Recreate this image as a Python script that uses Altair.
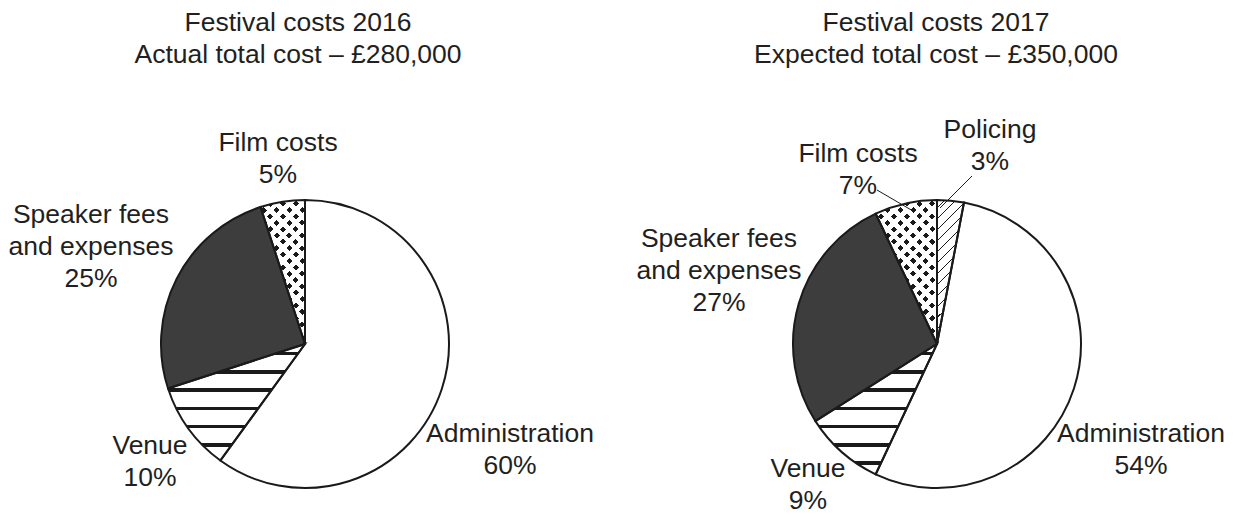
import math
import altair as alt
import pandas as pd

# ---------------- data ----------------
cats_2016 = ["Administration", "Venue", "Speaker fees and expenses", "Film costs"]
pct_2016 = [60, 10, 25, 5]

cats_2017 = ["Policing", "Administration", "Venue", "Speaker fees and expenses", "Film costs"]
pct_2017 = [3, 54, 9, 27, 7]

label_lines = {
    "Administration": ["Administration"],
    "Venue": ["Venue"],
    "Speaker fees and expenses": ["Speaker fees", "and expenses"],
    "Film costs": ["Film costs"],
    "Policing": ["Policing"],
}
titles_2016 = ["Festival costs 2016", "Actual total cost – £280,000"]
titles_2017 = ["Festival costs 2017", "Expected total cost – £350,000"]

# ---------------- layout / style (image pixel coordinates) ----------------
OFF = 8  # page margin
FONT = "Liberation Sans, Arial, Helvetica, sans-serif"
FS = 26.5
TXT = "#231f20"
INK = "#1a1a1a"
DARK = "#3d3d3d"
LH = 32

PIES = {
    "2016": dict(cats=cats_2016, pct=pct_2016, cx=305, cy=344, r=144, titles=titles_2016,
                 title_pos=(298, 31),
                 label_pos={"Film costs": (278, 151), "Speaker fees and expenses": (91, 223),
                            "Venue": (150, 454), "Administration": (510, 442)},
                 leaders=[]),
    "2017": dict(cats=cats_2017, pct=pct_2017, cx=937, cy=344, r=144, titles=titles_2017,
                 title_pos=(936, 31),
                 label_pos={"Policing": (990, 138), "Film costs": (858, 162),
                            "Speaker fees and expenses": (719, 247), "Venue": (808, 477),
                            "Administration": (1141, 442)},
                 leaders=[((877, 190), (913, 211)), ((972, 176), (940, 208))]),
}

fill_colors = {"Administration": "white", "Venue": "white", "Speaker fees and expenses": DARK,
               "Film costs": "white", "Policing": "white"}
all_cats = list(fill_colors.keys())


def arc_bbox(cx, cy, r, f0, f1):
    a0, a1 = f0 * 2 * math.pi, f1 * 2 * math.pi
    angs = [a0, a1] + [k * math.pi / 2 for k in range(5) if a0 < k * math.pi / 2 < a1]
    pts = [(cx, cy)] + [(cx + r * math.sin(a), cy - r * math.cos(a)) for a in angs]
    xs = [p[0] for p in pts]
    ys = [p[1] for p in pts]
    return min(xs), min(ys), max(xs), max(ys)


def stripe_fill(bbox, alpha, beta, period, thick, phase, ink, paper):
    x0, y0, x1, y1 = bbox
    W, H = max(x1 - x0, 1e-6), max(y1 - y0, 1e-6)
    n = math.hypot(alpha, beta)
    alpha, beta = alpha / n, beta / n
    corners = [(x0, y0), (x1, y0), (x0, y1), (x1, y1)]
    cs = [alpha * X + beta * Y for X, Y in corners]
    cmin, cmax = min(cs), max(cs)
    cx0, cy0 = corners[cs.index(cmin)]
    u0, v0 = (cx0 - x0) / W, (cy0 - y0) / H
    s = (cmax - cmin) / (alpha ** 2 * W ** 2 + beta ** 2 * H ** 2)
    gx2, gy2 = u0 + alpha * W * s, v0 + beta * H * s
    span = cmax - cmin
    stops = [{"offset": 0.0, "color": paper}]
    k = math.floor((cmin - phase - thick) / period)
    while True:
        a = phase + k * period
        if a > cmax:
            break
        b = a + thick
        ta = min(max((a - cmin) / span, 0.0), 1.0)
        tb = min(max((b - cmin) / span, 0.0), 1.0)
        if tb > ta:
            stops += [{"offset": ta, "color": paper}, {"offset": ta, "color": ink},
                      {"offset": tb, "color": ink}, {"offset": tb, "color": paper}]
        k += 1
    stops.append({"offset": 1.0, "color": paper})
    return {"gradient": "linear", "x1": u0, "y1": v0, "x2": gx2, "y2": gy2, "stops": stops}


theta_scale = alt.Scale(domain=[0, 100], range=[0, 2 * math.pi])
layers = []

for year, P in PIES.items():
    df = pd.DataFrame({"cat": P["cats"], "pct": P["pct"]})
    df["end"] = df["pct"].cumsum()
    df["start"] = df["end"] - df["pct"]
    cx, cy, r = P["cx"], P["cy"], P["r"]
    pos = dict(x=alt.value(cx - OFF), y=alt.value(cy - OFF))
    th = dict(theta=alt.Theta("start:Q", scale=theta_scale), theta2=alt.Theta2("end:Q"))
    base = alt.Chart(df)

    # solid fills
    layers.append(base.mark_arc(radius=r, strokeWidth=0).encode(
        color=alt.Color("cat:N", scale=alt.Scale(domain=all_cats, range=[fill_colors[c] for c in all_cats]),
                        legend=None), **th, **pos))

    rows = {c: (s, e) for c, s, e in zip(df["cat"], df["start"], df["end"])}

    # Venue: horizontal stripes
    s0, e0 = rows["Venue"]
    bb = arc_bbox(cx, cy, r, s0 / 100, e0 / 100)
    layers.append(base.mark_arc(radius=r, strokeWidth=0,
                                fill=stripe_fill(bb, 0, 1, 18.3, 3.6, 351.7, INK, "white"))
                  .transform_filter(alt.datum.cat == "Venue").encode(**th, **pos))

    # Film costs: staggered dots (two crossing diagonal band families)
    s0, e0 = rows["Film costs"]
    bb = arc_bbox(cx, cy, r, s0 / 100, e0 / 100)
    layers.append(base.mark_arc(radius=r, strokeWidth=0,
                                fill=stripe_fill(bb, 1, 1, 9.0, 4.3, 0, INK, "white"))
                  .transform_filter(alt.datum.cat == "Film costs").encode(**th, **pos))
    layers.append(base.mark_arc(radius=r, strokeWidth=0,
                                fill=stripe_fill(bb, 1, -1, 9.0, 4.3, 0,
                                                 "rgba(255,255,255,0)", "white"))
                  .transform_filter(alt.datum.cat == "Film costs").encode(**th, **pos))

    # Policing: diagonal hatching
    if "Policing" in rows:
        s0, e0 = rows["Policing"]
        bb = arc_bbox(cx, cy, r, s0 / 100, e0 / 100)
        layers.append(base.mark_arc(radius=r, strokeWidth=0,
                                    fill=stripe_fill(bb, 1, 1, 11 / math.sqrt(2), 1.1, 0, INK, "white"))
                      .transform_filter(alt.datum.cat == "Policing").encode(**th, **pos))

    # outlines
    layers.append(base.mark_arc(radius=r, fillOpacity=0, stroke=INK, strokeWidth=2).encode(**th, **pos))

    # labels
    lab = pd.DataFrame({
        "label": ["\n".join(label_lines[c] + [f"{p}%"]) for c, p in zip(P["cats"], P["pct"])],
        "lx": [P["label_pos"][c][0] - OFF for c in P["cats"]],
        "ly": [P["label_pos"][c][1] - OFF for c in P["cats"]],
    })
    layers.append(alt.Chart(lab).mark_text(font=FONT, fontSize=FS, color=TXT, align="center",
                                           baseline="alphabetic", lineBreak="\n", lineHeight=LH)
                  .encode(x=alt.X("lx:Q", scale=None), y=alt.Y("ly:Q", scale=None), text="label:N"))

    # title
    tdf = pd.DataFrame({"t": ["\n".join(P["titles"])]})
    layers.append(alt.Chart(tdf).mark_text(font=FONT, fontSize=FS, color=TXT, align="center",
                                           baseline="alphabetic", lineBreak="\n", lineHeight=LH)
                  .encode(x=alt.value(P["title_pos"][0] - OFF), y=alt.value(P["title_pos"][1] - OFF),
                          text="t:N"))

    # leader lines
    for (xa, ya), (xb, yb) in P["leaders"]:
        layers.append(alt.Chart(tdf).mark_rule(color=INK, strokeWidth=1).encode(
            x=alt.value(xa - OFF), y=alt.value(ya - OFF), x2=alt.value(xb - OFF), y2=alt.value(yb - OFF)))

chart = alt.layer(*layers).properties(
    width=1218, height=509, autosize="none", padding=0, background="white"
).configure_view(stroke=None)

chart.save("out.html", embed_options={"renderer": "svg", "actions": False})
